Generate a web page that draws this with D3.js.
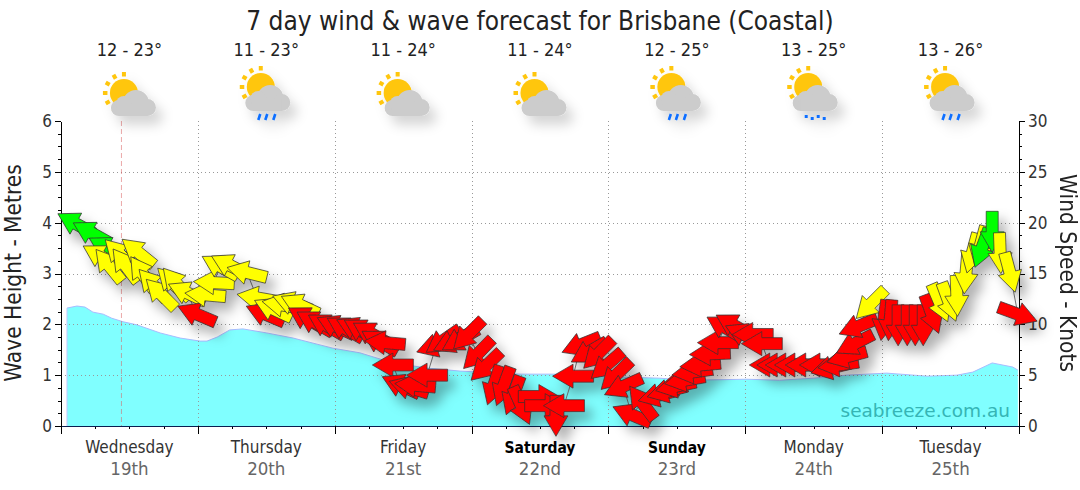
<!DOCTYPE html>
<html>
<head>
<meta charset="utf-8">
<script src="https://cdnjs.cloudflare.com/ajax/libs/d3/7.8.5/d3.min.js"></script>
<style>
	html, body { margin: 0; padding: 0; background: #fff; }
	svg { display: block; font-family: 'DejaVu Sans Condensed', 'DejaVu Sans', sans-serif; }
	.axis path, .axis line { shape-rendering: crispEdges; }
</style>
</head>
<body>
<div id="chart"></div>
<script>
var title = '7 day wind & wave forecast for Brisbane (Coastal)';
var dayNames = ['Wednesday', 'Thursday', 'Friday', 'Saturday', 'Sunday', 'Monday', 'Tuesday'];
var dayDates = ['19th', '20th', '21st', '22nd', '23rd', '24th', '25th'];
var weekend = ['Saturday', 'Sunday'];
var temps = ['12 - 23°', '11 - 23°', '11 - 24°', '11 - 24°', '12 - 25°', '13 - 25°', '13 - 26°'];
var icons = ['cloud', 'rain', 'cloud', 'cloud', 'rain', 'showers', 'rain'];
var waveTicks = [0, 1, 2, 3, 4, 5, 6];
var windTicks = [0, 5, 10, 15, 20, 25, 30];
var nowHour = 10.6;

// wave height, hours from wednesday midnight / metres
var waveHours = [1.05, 2.8, 4.2, 5.6, 7.4, 8.9, 10.9, 13.3, 17.4, 20.9, 24.4, 25.6, 27.4, 29.6, 31.9, 36.1, 40.7, 44.2, 47.7, 52.4, 58.2, 64.2, 70, 80.5, 86.3, 93.3, 99.3, 105, 110, 120.3, 126, 131.9, 137.8, 144.8, 151.9, 157.1, 159.9, 163.3, 166.9, 167.8];
var waveHeight = [2.32, 2.36, 2.34, 2.24, 2.2, 2.12, 2.05, 1.99, 1.83, 1.73, 1.67, 1.67, 1.75, 1.89, 1.91, 1.83, 1.73, 1.63, 1.53, 1.44, 1.24, 1.14, 1.08, 1.02, 1.02, 0.98, 0.96, 0.94, 0.9, 0.92, 0.9, 0.94, 1, 1.04, 0.98, 1, 1.06, 1.24, 1.16, 1.1];

// wind, in time order: hours / knots / bearing the arrow points to / band
var windHours = [2.6, 5.3, 8.1, 7, 8.4, 10.3, 11.3, 13.5, 14.3, 16.1, 17.5, 19.5, 20.3, 22.1, 23.8, 25.3, 26.8, 27.9, 29.6, 32.6, 34.4, 35.8, 37.2, 38.8, 40.5, 41.9, 43, 44.5, 46.5, 48.2, 49.8, 51.6, 52.8, 54.4, 55.9, 56.8, 58.2, 59.6, 61, 62.1, 64.2, 65.8, 67, 68.6, 70, 71.4, 73.1, 74.5, 75.9, 77.6, 79.3, 80.7, 83.8, 84.9, 86.8, 88.2, 89.8, 91.2, 92.6, 94.2, 95.7, 97.3, 98.6, 100.1, 101.9, 104.7, 106.3, 107.8, 109.4, 110.7, 112.1, 113.8, 115.2, 116.4, 118, 119.8, 121.3, 122.9, 124.3, 125.6, 127.1, 128.7, 130.6, 133.1, 135, 136.3, 137.8, 139.2, 139.8, 142, 144.3, 145.4, 146.8, 148.4, 149.8, 151.2, 152.7, 154.1, 155.7, 157.1, 158.7, 159.8, 161.2, 161.5, 163.3, 164.7, 166.4, 167.8];
var windSpeed = [19.9, 19, 17.5, 16.7, 15.8, 16.9, 15.8, 17.1, 15, 13.9, 13, 14.1, 14, 13.1, 11, 12.9, 14.1, 15.7, 15.8, 15.1, 12.6, 11, 11.5, 11.9, 12.1, 11.9, 10.6, 10.2, 9.9, 9.8, 9.6, 9.6, 9.4, 9.1, 8.3, 8.2, 6, 4, 3.8, 4, 5, 7.9, 8.4, 8.3, 8.5, 9, 7.1, 5.9, 4, 3.9, 3, 2, 2.9, 2, 1, 2, 4.9, 8, 7.3, 7.1, 6, 5, 3.9, 1.1, 2.3, 3, 3.4, 3.9, 4.5, 5.3, 6, 7.1, 8.2, 9.7, 9.9, 9, 9, 8.1, 6, 6, 6, 6, 6, 6, 5.7, 6, 6.8, 8.1, 9.8, 12, 10.4, 10.4, 9.9, 9.9, 9.9, 9.9, 11, 12.1, 12.2, 12.8, 15, 17, 17.7, 17.5, 19.1, 17, 15.1, 11];
var windBearing = [299, 299, 299, 300, 321, 315, 323, 309, 325, 318, 315, 315, 319, 295, 293, 275, 273, 299, 297, 284, 280, 293, 295, 280, 290, 295, 300, 300, 300, 295, 300, 295, 300, 300, 300, 275, 270, 295, 287, 275, 270, 252, 235, 245, 240, 225, 224, 226, 198, 200, 200, 156, 90, 90, 180, 270, 270, 248, 240, 225, 229, 226, 246, 293, 323, 255, 255, 258, 260, 262, 265, 268, 270, 300, 300, 295, 270, 270, 270, 270, 270, 270, 270, 270, 256, 262, 255, 243, 248, 225, 188, 185, 180, 180, 180, 180, 160, 157, 160, 178, 185, 195, 195, 200, 180, 178, 165, 110];
var windBand = ['g', 'g', 'g', 'y', 'y', 'y', 'y', 'y', 'y', 'y', 'y', 'y', 'y', 'y', 'r', 'y', 'y', 'y', 'y', 'y', 'y', 'r', 'y', 'y', 'y', 'y', 'r', 'r', 'r', 'r', 'r', 'r', 'r', 'r', 'r', 'r', 'r', 'r', 'r', 'r', 'r', 'r', 'r', 'r', 'r', 'r', 'r', 'r', 'r', 'r', 'r', 'r', 'r', 'r', 'r', 'r', 'r', 'r', 'r', 'r', 'r', 'r', 'r', 'r', 'r', 'r', 'r', 'r', 'r', 'r', 'r', 'r', 'r', 'r', 'r', 'r', 'r', 'r', 'r', 'r', 'r', 'r', 'r', 'r', 'r', 'r', 'r', 'r', 'r', 'y', 'r', 'r', 'r', 'r', 'r', 'r', 'r', 'y', 'y', 'y', 'y', 'y', 'y', 'g', 'g', 'y', 'y', 'r'];
var bandColor = { r: '#ff0000', y: '#ffff00', g: '#00ff00' };

var width = 1080, height = 490;
var left = 61, right = 1019, top_ = 121, bottom = 426;

var svg = d3.select('#chart').append('svg').attr('width', width).attr('height', height);

var defs = svg.append('defs');
var shadow = defs.append('filter').attr('id', 'shadow')
	.attr('x', '-20%').attr('y', '-20%').attr('width', '150%').attr('height', '150%');
shadow.append('feDropShadow').attr('dx', 7).attr('dy', 9).attr('stdDeviation', 6)
	.attr('flood-color', '#000').attr('flood-opacity', 0.3);
var iconShadow = defs.append('filter').attr('id', 'iconShadow')
	.attr('x', '-40%').attr('y', '-40%').attr('width', '200%').attr('height', '200%');
iconShadow.append('feDropShadow').attr('dx', 7).attr('dy', 9).attr('stdDeviation', 6)
	.attr('flood-color', '#000').attr('flood-opacity', 0.16);

var x = d3.scaleLinear().domain([0, 168]).range([left, right]);
var yWave = d3.scaleLinear().domain([0, 6]).range([bottom, top_]);
var yWind = d3.scaleLinear().domain([0, 30]).range([bottom, top_]);

// 波高面积
var waves = waveHours.map(function (h, i) { return { h: h, v: waveHeight[i] }; });
var area = d3.area().x(function (d) { return x(d.h); }).y0(bottom).y1(function (d) { return yWave(d.v); });
var waveLine = d3.line().x(function (d) { return x(d.h); }).y(function (d) { return yWave(d.v); });
svg.append('path').attr('d', area(waves)).attr('fill', '#80ffff');
svg.append('path').attr('d', waveLine(waves)).attr('fill', 'none').attr('stroke', '#a8bcff').attr('stroke-width', 1);
svg.append('line').attr('x1', x(waveHours[0])).attr('x2', x(waveHours[0])).attr('y1', yWave(waveHeight[0])).attr('y2', bottom)
	.attr('stroke', '#c0c8ff').attr('stroke-width', 1);

// 网格
var grid = svg.append('g').attr('class', 'grid').attr('stroke', '#999').attr('stroke-width', 1).attr('stroke-dasharray', '1,3');
grid.selectAll('.h').data(waveTicks.slice(1, 6)).enter().append('line')
	.attr('x1', left).attr('x2', right)
	.attr('y1', function (d) { return Math.round(yWave(d)) + 0.5; })
	.attr('y2', function (d) { return Math.round(yWave(d)) + 0.5; });
grid.selectAll('.v').data(d3.range(1, 7)).enter().append('line')
	.attr('y1', top_).attr('y2', bottom)
	.attr('x1', function (d) { return Math.round(x(d * 24)) + 0.5; })
	.attr('x2', function (d) { return Math.round(x(d * 24)) + 0.5; });

svg.append('line').attr('x1', x(nowHour)).attr('x2', x(nowHour)).attr('y1', top_).attr('y2', bottom)
	.attr('stroke', '#d86060').attr('stroke-opacity', 0.55).attr('stroke-dasharray', '5,3');

svg.append('text').attr('x', right - 9).attr('y', 417).attr('text-anchor', 'end')
	.attr('font-family', "'DejaVu Sans', sans-serif")
	.attr('font-size', 18.5).attr('fill', '#35b5b5').text('seabreeze.com.au');

// 坐标轴
function styleAxis(g) {
	g.attr('class', 'axis');
	g.selectAll('path').attr('stroke', '#000');
	g.selectAll('line').attr('stroke', '#000');
	g.selectAll('text').attr('font-size', 17).attr('fill', '#333').attr('font-family', "'DejaVu Sans Condensed', 'DejaVu Sans', sans-serif");
}
var minorWave = d3.range(0, 6.01, 0.25);
var minorWind = d3.range(0, 30.01, 1.25);
svg.append('g').attr('transform', 'translate(' + left + ',0)')
	.call(d3.axisLeft(yWave).tickValues(minorWave).tickSize(3).tickFormat('').tickSizeOuter(0)).call(styleAxis);
svg.append('g').attr('transform', 'translate(' + left + ',0)')
	.call(d3.axisLeft(yWave).tickValues(waveTicks).tickSize(6).tickPadding(3).tickFormat(d3.format('d')).tickSizeOuter(0)).call(styleAxis);
svg.append('g').attr('transform', 'translate(' + right + ',0)')
	.call(d3.axisRight(yWind).tickValues(minorWind).tickSize(3).tickFormat('').tickSizeOuter(0)).call(styleAxis);
svg.append('g').attr('transform', 'translate(' + right + ',0)')
	.call(d3.axisRight(yWind).tickValues(windTicks).tickSize(6).tickPadding(3).tickFormat(d3.format('d')).tickSizeOuter(0)).call(styleAxis);

var xMinor = svg.append('g').attr('transform', 'translate(0,' + bottom + ')')
	.call(d3.axisBottom(x).tickValues(d3.range(0, 168.1, 6)).tickSize(3).tickFormat('').tickSizeOuter(0)).call(styleAxis);
var xMajor = svg.append('g').attr('transform', 'translate(0,' + bottom + ')')
	.call(d3.axisBottom(x).tickValues(d3.range(0, 168.1, 24)).tickSize(8).tickFormat('').tickSizeOuter(0)).call(styleAxis);
xMinor.select('path').attr('stroke', '#0a1e50');
xMajor.select('path').attr('stroke', '#0a1e50');

// 日期
var days = svg.append('g');
dayNames.forEach(function (name, i) {
	var cx = x(i * 24 + 12);
	var isWeekend = weekend.indexOf(name) >= 0;
	days.append('text').attr('x', cx).attr('y', 453).attr('text-anchor', 'middle').attr('font-size', isWeekend ? 15.5 : 17)
		.attr('font-weight', isWeekend ? 'bold' : 'normal')
		.attr('fill', isWeekend ? '#000' : '#333').text(name);
	days.append('text').attr('x', cx).attr('y', 475).attr('text-anchor', 'middle').attr('font-size', 18.5)
		.attr('fill', '#666').text(dayDates[i]);
	svg.append('text').attr('x', cx).attr('y', 56).attr('text-anchor', 'middle').attr('font-size', 18)
		.attr('fill', '#222').text(temps[i]);
	drawIcon(cx, icons[i]);
});

function drawIcon(cx, type) {
	var wet = type !== 'cloud';
	var g = svg.append('g').attr('filter', 'url(#iconShadow)').attr('transform', 'translate(' + cx + ',' + (wet ? 87 : 93) + ')');
	var sun = g.append('g').attr('transform', 'translate(-5.5,0)');
	sun.append('circle').attr('r', 14).attr('fill', '#ffc60a');
	d3.range(0, 360, 30).forEach(function (a) {
		if (a >= 60 && a <= 210) return;
		sun.append('rect').attr('x', -2).attr('y', -21).attr('width', 4).attr('height', 4.5).attr('fill', '#ffc60a')
			.attr('transform', 'rotate(' + (a - 30) + ')');
	});
	var c = g.append('g').attr('transform', 'translate(' + (wet ? -21 : -18.5) + ',' + (wet ? -2 : -3) + ')').attr('fill', '#cccccc');
	c.append('circle').attr('cx', 8).attr('cy', 18).attr('r', 8);
	c.append('circle').attr('cx', 25).attr('cy', 13).attr('r', 13);
	c.append('circle').attr('cx', 13).attr('cy', 14).attr('r', 8);
	c.append('circle').attr('cx', 36.5).attr('cy', 17.5).attr('r', 8.5);
	c.append('rect').attr('x', 8).attr('y', 14).attr('width', 28).attr('height', 12);
	if (type === 'rain') {
		[-8, -1, 7].forEach(function (d) {
			g.append('line').attr('x1', d + 2).attr('x2', d).attr('y1', 27).attr('y2', 33)
				.attr('stroke', '#0a6eff').attr('stroke-width', 2.6);
		});
	}
	if (type === 'showers') {
		[[-9, 28], [-3, 30], [3, 28], [9, 30]].forEach(function (d) {
			g.append('rect').attr('x', d[0]).attr('y', d[1]).attr('width', 3).attr('height', 3).attr('fill', '#0a6eff');
		});
	}
}

// 风速连线 + 箭头
var winds = windHours.map(function (h, i) {
	return { h: h, v: windSpeed[i], b: windBearing[i], c: windBand[i] };
});
var windLine = d3.line().x(function (d) { return x(d.h); }).y(function (d) { return yWind(d.v); });
svg.append('path').attr('d', windLine(winds)).attr('fill', 'none').attr('stroke', '#777').attr('stroke-width', 1);

var arrowShape = 'M0,-20.5L12,0L6,0L6,20.5L-6,20.5L-6,0L-12,0Z';
svg.append('g').attr('class', 'arrows').attr('filter', 'url(#shadow)')
	.selectAll('path').data(winds).enter().append('path')
	.attr('d', arrowShape)
	.attr('transform', function (d) { return 'translate(' + x(d.h) + ',' + yWind(d.v) + ') rotate(' + d.b + ')'; })
	.attr('fill', function (d) { return bandColor[d.c]; })
	.attr('stroke', '#333').attr('stroke-width', 0.7).attr('stroke-linejoin', 'miter');

// 标题
svg.append('text').attr('x', 540).attr('y', 30).attr('text-anchor', 'middle').attr('font-size', 26).attr('fill', '#222').text(title);
svg.append('text').attr('transform', 'translate(21,273) rotate(-90)').attr('text-anchor', 'middle').attr('font-size', 22.5).attr('fill', '#222').text('Wave Height - Metres');
svg.append('text').attr('transform', 'translate(1060,273) rotate(90)').attr('text-anchor', 'middle').attr('font-size', 22.5).attr('fill', '#222').text('Wind Speed - Knots');
</script>
</body>
</html>
